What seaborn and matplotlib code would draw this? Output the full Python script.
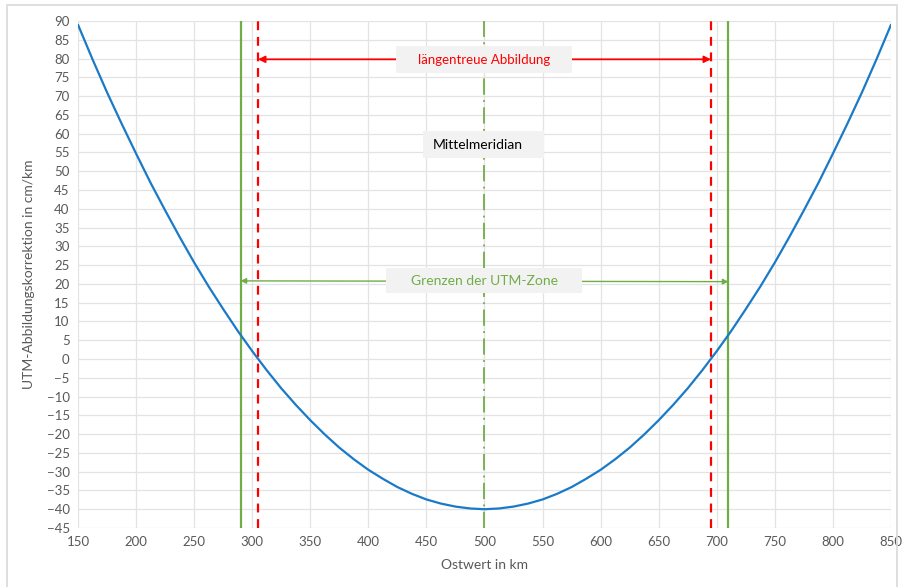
import numpy as np
import pandas as pd
import matplotlib.pyplot as plt
import seaborn as sns
from matplotlib.patches import Rectangle

# values
ostwert = [150, 162.5, 175, 187.5, 200, 212.5, 225, 237.5, 250, 262.5, 275, 287.5, 300, 312.5,
           325, 337.5, 350, 362.5, 375, 387.5, 400, 412.5, 425, 437.5, 450, 462.5, 475, 487.5,
           500, 512.5, 525, 537.5, 550, 562.5, 575, 587.5, 600, 612.5, 625, 637.5, 650, 662.5,
           675, 687.5, 700, 712.5, 725, 737.5, 750, 762.5, 775, 787.5, 800, 812.5, 825, 837.5, 850]
korrektion = [89, 79.8, 71, 62.7, 54.7, 46.9, 39.6, 32.5, 25.7, 19.3, 13.3, 7.5, 2.1, -3.0,
              -7.8, -12.2, -16.3, -20.1, -23.6, -26.7, -29.5, -31.9, -34.1, -35.9, -37.4, -38.5, -39.3, -39.8,
              -40, -39.8, -39.3, -38.5, -37.4, -35.9, -34.1, -31.9, -29.5, -26.7, -23.6, -20.1, -16.3, -12.2,
              -7.8, -3.0, 2.1, 7.5, 13.3, 19.3, 25.7, 32.5, 39.6, 46.9, 54.7, 62.7, 71, 79.8, 89]
zonen_grenzen = [290, 710]
laengentreu = [305, 695]
mittelmeridian = 500

df = pd.DataFrame({'ostwert': ostwert, 'korrektion': korrektion})

sns.set_theme(style='white')
plt.rcParams['font.family'] = ['Lato', 'DejaVu Sans']

fig = plt.figure(figsize=(9.04, 5.87), dpi=100)
ax = fig.add_axes([78/904, 59/587, 813/904, 507/587])

grey = '#595959'
green = '#70AD47'
red = '#FF0000'
boxcol = '#F2F2F2'

ax.set_xlim(150, 850)
ax.set_ylim(-45, 90)
ax.set_xticks(np.arange(150, 851, 50))
ax.set_yticks(np.arange(-45, 91, 5))
ax.grid(True, color='#E3E3E3', linewidth=0.9)
ax.set_axisbelow(True)
for s in ax.spines.values():
    s.set_visible(False)
ax.tick_params(axis='both', colors=grey, labelsize=9.5, length=0, pad=6)

sns.lineplot(df, x='ostwert', y='korrektion', ax=ax, color='#1A7AC8', linewidth=1.6, zorder=4)

for xv in zonen_grenzen:
    ax.axvline(xv, color=green, linewidth=1.6, zorder=3)
for xv in laengentreu:
    ax.axvline(xv, color=red, linewidth=1.6, linestyle=(0, (4, 3)), zorder=3)
ax.axvline(mittelmeridian, color=green, linewidth=1.3, linestyle=(0, (9, 3, 1, 3)), zorder=3)

# arrows
ax.annotate('', xy=(laengentreu[0], 79.8), xytext=(laengentreu[1], 79.8),
            arrowprops=dict(arrowstyle='<|-|>', color=red, lw=1.3, mutation_scale=10,
                            shrinkA=0, shrinkB=0), zorder=5)
ax.annotate('', xy=(zonen_grenzen[0], 20.8), xytext=(zonen_grenzen[1], 20.6),
            arrowprops=dict(arrowstyle='<|-|>', color=green, lw=1.0, mutation_scale=8,
                            shrinkA=0, shrinkB=0), zorder=5)

# text boxes
ax.add_patch(Rectangle((423.8, 76.2), 151.6, 7.1, facecolor=boxcol, edgecolor='none', zorder=6))
ax.text(499.6, 79.7, 'längentreue Abbildung', color=red, fontsize=9.5, ha='center', va='center', zorder=7)

ax.add_patch(Rectangle((447.1, 53.5), 104.2, 7.2, facecolor=boxcol, edgecolor='none', zorder=6))
ax.text(455.5, 57.1, 'Mittelmeridian', color='black', fontsize=10, ha='left', va='center', zorder=7)

ax.add_patch(Rectangle((415.2, 17.5), 168.8, 6.7, facecolor=boxcol, edgecolor='none', zorder=6))
ax.text(499.6, 20.8, 'Grenzen der UTM-Zone', color=green, fontsize=10, ha='center', va='center', zorder=7)

ax.set_xlabel('Ostwert in km', color=grey, fontsize=10, labelpad=8)
ax.set_ylabel('UTM-Abbildungskorrektion in cm/km', color=grey, fontsize=10, labelpad=8)

# outer frame of the chart
fig.patches.append(Rectangle((7/904, -0.05), 890/904, 1 - 5/587 + 0.05, transform=fig.transFigure,
                             fill=False, edgecolor='#D9D9D9', linewidth=1.2, zorder=0))

fig.savefig('out.png', dpi=100)
